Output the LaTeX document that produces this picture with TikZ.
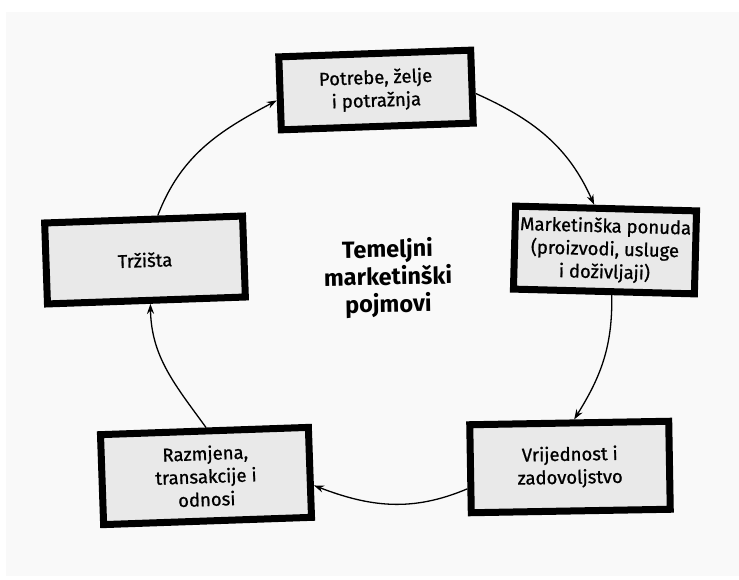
\documentclass[tikz,border=0pt]{standalone}
\usepackage{fontspec}
\setmainfont{Fira Sans}
\newfontfamily\boxfont{Fira Sans}[FakeBold=0.9]
\usetikzlibrary{arrows.meta}
\begin{document}
\begin{tikzpicture}[x=1pt,y=1pt]
\tikzset{
  box/.style={draw=black, line width=7pt, fill=gray!17, align=center,
    font=\boxfont\fontsize{18.5}{23}\selectfont, inner sep=2pt},
  link/.style={-{Stealth[length=10pt,width=7pt]}, line width=1.3pt, looseness=1},
  centre/.style={align=center, font=\bfseries\fontsize{23.5}{27.5}\selectfont}
}
\useasboundingbox (0,0) rectangle (739,579);
\fill[white] (0,0) rectangle (739,579);
\fill[gray!5] (6,3) rectangle (739,567);

\node[box, minimum width=192, minimum height=73, rotate=2] (pot) at (376,489) {Potrebe, želje\\ i potražnja};
\node[box, minimum width=181, minimum height=83, rotate=-1.5] (mk) at (605,329) {Marketinška ponuda\\ (proizvodi, usluge\\ i doživljaji)};
\node[box, minimum width=199, minimum height=88, rotate=1] (vr) at (570,112) {Vrijednost i\\ zadovoljstvo};
\node[box, minimum width=208, minimum height=90, rotate=2] (rz) at (206,103) {Razmjena,\\ transakcije i\\ odnosi};
\node[box, minimum width=198, minimum height=81, rotate=2] (tr) at (145,319) {Tržišta};
\node[centre, rotate=1] (ctr) at (388,301) {Temeljni\\ marketinški\\ pojmovi};

\draw[link] (tr.72) to[out=69, in=208] (pot.184);
\draw[link] (pot.-4) to[out=-24, in=114] (mk.105);
\draw[link] (mk.280) to[out=-89, in=58] (vr.84);
\draw[link] (vr.191) to[out=203, in=-21] (rz.-7);
\draw[link] (rz.88) to[out=126, in=-89] (tr.275);
\end{tikzpicture}
\end{document}
